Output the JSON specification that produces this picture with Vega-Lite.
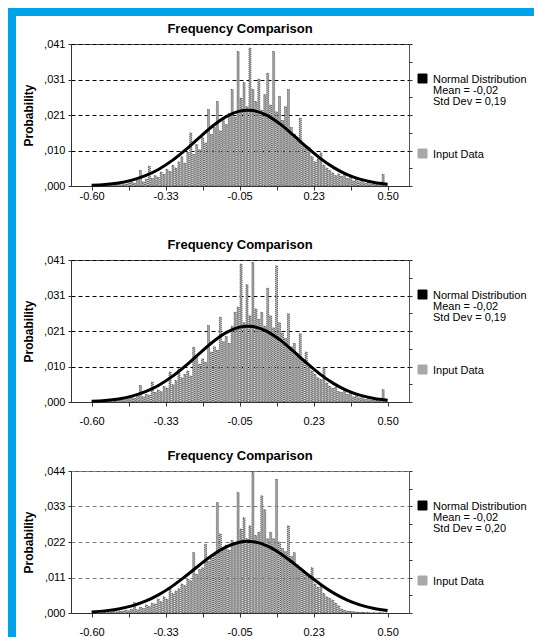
{
"$schema": "https://vega.github.io/schema/vega-lite/v6.json",
"background": "white",
"padding": {"left": 8, "top": 8, "right": 0, "bottom": 0},
"datasets": {
"bars": [
{"p":1,"x":-0.5945,"y":0.0003},{"p":1,"x":-0.5835,"y":0.0002},{"p":1,"x":-0.5725,"y":0.0004},{"p":1,"x":-0.5615,"y":0.0003},{"p":1,"x":-0.5505,"y":0.0005},{"p":1,"x":-0.5395,"y":0.0006},{"p":1,"x":-0.5285,"y":0.0004},{"p":1,"x":-0.5175,"y":0.0008},{"p":1,"x":-0.5065,"y":0.0005},{"p":1,"x":-0.4955,"y":0.0009},
{"p":1,"x":-0.4845,"y":0.0010},{"p":1,"x":-0.4735,"y":0.0006},{"p":1,"x":-0.4625,"y":0.0014},{"p":1,"x":-0.4515,"y":0.0012},{"p":1,"x":-0.4405,"y":0.0008},{"p":1,"x":-0.4295,"y":0.0016},{"p":1,"x":-0.4185,"y":0.0045},{"p":1,"x":-0.4075,"y":0.0012},{"p":1,"x":-0.3965,"y":0.0020},{"p":1,"x":-0.3855,"y":0.0058},
{"p":1,"x":-0.3745,"y":0.0022},{"p":1,"x":-0.3635,"y":0.0030},{"p":1,"x":-0.3525,"y":0.0025},{"p":1,"x":-0.3415,"y":0.0040},{"p":1,"x":-0.3305,"y":0.0034},{"p":1,"x":-0.3195,"y":0.0048},{"p":1,"x":-0.3085,"y":0.0042},{"p":1,"x":-0.2975,"y":0.0060},{"p":1,"x":-0.2865,"y":0.0052},{"p":1,"x":-0.2755,"y":0.0070},
{"p":1,"x":-0.2645,"y":0.0085},{"p":1,"x":-0.2535,"y":0.0066},{"p":1,"x":-0.2425,"y":0.0098},{"p":1,"x":-0.2315,"y":0.0154},{"p":1,"x":-0.2205,"y":0.0092},{"p":1,"x":-0.2095,"y":0.0120},{"p":1,"x":-0.1985,"y":0.0105},{"p":1,"x":-0.1875,"y":0.0140},{"p":1,"x":-0.1765,"y":0.0125},{"p":1,"x":-0.1655,"y":0.0222},
{"p":1,"x":-0.1545,"y":0.0150},{"p":1,"x":-0.1435,"y":0.0170},{"p":1,"x":-0.1325,"y":0.0245},{"p":1,"x":-0.1215,"y":0.0160},{"p":1,"x":-0.1105,"y":0.0195},{"p":1,"x":-0.0995,"y":0.0178},{"p":1,"x":-0.0885,"y":0.0210},{"p":1,"x":-0.0775,"y":0.0280},{"p":1,"x":-0.0665,"y":0.0200},{"p":1,"x":-0.0555,"y":0.0390},
{"p":1,"x":-0.0445,"y":0.0255},{"p":1,"x":-0.0335,"y":0.0300},{"p":1,"x":-0.0225,"y":0.0230},{"p":1,"x":-0.0115,"y":0.0400},{"p":1,"x":-0.0005,"y":0.0280},{"p":1,"x":0.0105,"y":0.0245},{"p":1,"x":0.0215,"y":0.0310},{"p":1,"x":0.0325,"y":0.0220},{"p":1,"x":0.0435,"y":0.0265},{"p":1,"x":0.0545,"y":0.0327},
{"p":1,"x":0.0655,"y":0.0235},{"p":1,"x":0.0765,"y":0.0390},{"p":1,"x":0.0875,"y":0.0215},{"p":1,"x":0.0985,"y":0.0260},{"p":1,"x":0.1095,"y":0.0190},{"p":1,"x":0.1205,"y":0.0230},{"p":1,"x":0.1315,"y":0.0280},{"p":1,"x":0.1425,"y":0.0170},{"p":1,"x":0.1535,"y":0.0150},{"p":1,"x":0.1645,"y":0.0140},
{"p":1,"x":0.1755,"y":0.0197},{"p":1,"x":0.1865,"y":0.0120},{"p":1,"x":0.1975,"y":0.0110},{"p":1,"x":0.2085,"y":0.0112},{"p":1,"x":0.2195,"y":0.0085},{"p":1,"x":0.2305,"y":0.0070},{"p":1,"x":0.2415,"y":0.0078},{"p":1,"x":0.2525,"y":0.0096},{"p":1,"x":0.2635,"y":0.0060},{"p":1,"x":0.2745,"y":0.0052},
{"p":1,"x":0.2855,"y":0.0045},{"p":1,"x":0.2965,"y":0.0038},{"p":1,"x":0.3075,"y":0.0030},{"p":1,"x":0.3185,"y":0.0035},{"p":1,"x":0.3295,"y":0.0028},{"p":1,"x":0.3405,"y":0.0036},{"p":1,"x":0.3515,"y":0.0022},{"p":1,"x":0.3625,"y":0.0030},{"p":1,"x":0.3735,"y":0.0015},{"p":1,"x":0.3845,"y":0.0020},
{"p":1,"x":0.3955,"y":0.0012},{"p":1,"x":0.4065,"y":0.0018},{"p":1,"x":0.4175,"y":0.0008},{"p":1,"x":0.4285,"y":0.0010},{"p":1,"x":0.4395,"y":0.0006},{"p":1,"x":0.4505,"y":0.0009},{"p":1,"x":0.4615,"y":0.0004},{"p":1,"x":0.4725,"y":0.0008},{"p":1,"x":0.4835,"y":0.0034},{"p":1,"x":0.4945,"y":0.0005},
{"p":2,"x":-0.5945,"y":0.0003},{"p":2,"x":-0.5835,"y":0.0004},{"p":2,"x":-0.5725,"y":0.0002},{"p":2,"x":-0.5615,"y":0.0005},{"p":2,"x":-0.5505,"y":0.0004},{"p":2,"x":-0.5395,"y":0.0007},{"p":2,"x":-0.5285,"y":0.0005},{"p":2,"x":-0.5175,"y":0.0009},{"p":2,"x":-0.5065,"y":0.0006},{"p":2,"x":-0.4955,"y":0.0010},
{"p":2,"x":-0.4845,"y":0.0008},{"p":2,"x":-0.4735,"y":0.0013},{"p":2,"x":-0.4625,"y":0.0010},{"p":2,"x":-0.4515,"y":0.0015},{"p":2,"x":-0.4405,"y":0.0011},{"p":2,"x":-0.4295,"y":0.0018},{"p":2,"x":-0.4185,"y":0.0048},{"p":2,"x":-0.4075,"y":0.0015},{"p":2,"x":-0.3965,"y":0.0022},{"p":2,"x":-0.3855,"y":0.0020},
{"p":2,"x":-0.3745,"y":0.0058},{"p":2,"x":-0.3635,"y":0.0028},{"p":2,"x":-0.3525,"y":0.0035},{"p":2,"x":-0.3415,"y":0.0030},{"p":2,"x":-0.3305,"y":0.0045},{"p":2,"x":-0.3195,"y":0.0040},{"p":2,"x":-0.3085,"y":0.0087},{"p":2,"x":-0.2975,"y":0.0050},{"p":2,"x":-0.2865,"y":0.0062},{"p":2,"x":-0.2755,"y":0.0096},
{"p":2,"x":-0.2645,"y":0.0070},{"p":2,"x":-0.2535,"y":0.0080},{"p":2,"x":-0.2425,"y":0.0090},{"p":2,"x":-0.2315,"y":0.0075},{"p":2,"x":-0.2205,"y":0.0159},{"p":2,"x":-0.2095,"y":0.0135},{"p":2,"x":-0.1985,"y":0.0110},{"p":2,"x":-0.1875,"y":0.0125},{"p":2,"x":-0.1765,"y":0.0115},{"p":2,"x":-0.1655,"y":0.0222},
{"p":2,"x":-0.1545,"y":0.0145},{"p":2,"x":-0.1435,"y":0.0160},{"p":2,"x":-0.1325,"y":0.0150},{"p":2,"x":-0.1215,"y":0.0246},{"p":2,"x":-0.1105,"y":0.0175},{"p":2,"x":-0.0995,"y":0.0190},{"p":2,"x":-0.0885,"y":0.0170},{"p":2,"x":-0.0775,"y":0.0220},{"p":2,"x":-0.0665,"y":0.0260},{"p":2,"x":-0.0555,"y":0.0275},
{"p":2,"x":-0.0445,"y":0.0400},{"p":2,"x":-0.0335,"y":0.0230},{"p":2,"x":-0.0225,"y":0.0340},{"p":2,"x":-0.0115,"y":0.0250},{"p":2,"x":-0.0005,"y":0.0405},{"p":2,"x":0.0105,"y":0.0270},{"p":2,"x":0.0215,"y":0.0240},{"p":2,"x":0.0325,"y":0.0260},{"p":2,"x":0.0435,"y":0.0220},{"p":2,"x":0.0545,"y":0.0330},
{"p":2,"x":0.0655,"y":0.0250},{"p":2,"x":0.0765,"y":0.0215},{"p":2,"x":0.0875,"y":0.0395},{"p":2,"x":0.0985,"y":0.0230},{"p":2,"x":0.1095,"y":0.0200},{"p":2,"x":0.1205,"y":0.0185},{"p":2,"x":0.1315,"y":0.0256},{"p":2,"x":0.1425,"y":0.0160},{"p":2,"x":0.1535,"y":0.0170},{"p":2,"x":0.1645,"y":0.0140},
{"p":2,"x":0.1755,"y":0.0198},{"p":2,"x":0.1865,"y":0.0125},{"p":2,"x":0.1975,"y":0.0145},{"p":2,"x":0.2085,"y":0.0100},{"p":2,"x":0.2195,"y":0.0090},{"p":2,"x":0.2305,"y":0.0080},{"p":2,"x":0.2415,"y":0.0070},{"p":2,"x":0.2525,"y":0.0065},{"p":2,"x":0.2635,"y":0.0101},{"p":2,"x":0.2745,"y":0.0055},
{"p":2,"x":0.2855,"y":0.0045},{"p":2,"x":0.2965,"y":0.0040},{"p":2,"x":0.3075,"y":0.0043},{"p":2,"x":0.3185,"y":0.0030},{"p":2,"x":0.3295,"y":0.0028},{"p":2,"x":0.3405,"y":0.0034},{"p":2,"x":0.3515,"y":0.0022},{"p":2,"x":0.3625,"y":0.0025},{"p":2,"x":0.3735,"y":0.0015},{"p":2,"x":0.3845,"y":0.0018},
{"p":2,"x":0.3955,"y":0.0012},{"p":2,"x":0.4065,"y":0.0019},{"p":2,"x":0.4175,"y":0.0008},{"p":2,"x":0.4285,"y":0.0010},{"p":2,"x":0.4395,"y":0.0006},{"p":2,"x":0.4505,"y":0.0008},{"p":2,"x":0.4615,"y":0.0004},{"p":2,"x":0.4725,"y":0.0006},{"p":2,"x":0.4835,"y":0.0036},{"p":2,"x":0.4945,"y":0.0008},
{"p":3,"x":-0.5945,"y":0.0000},{"p":3,"x":-0.5835,"y":0.0002},{"p":3,"x":-0.5725,"y":0.0000},{"p":3,"x":-0.5615,"y":0.0003},{"p":3,"x":-0.5505,"y":0.0002},{"p":3,"x":-0.5395,"y":0.0004},{"p":3,"x":-0.5285,"y":0.0003},{"p":3,"x":-0.5175,"y":0.0005},{"p":3,"x":-0.5065,"y":0.0004},{"p":3,"x":-0.4955,"y":0.0006},
{"p":3,"x":-0.4845,"y":0.0006},{"p":3,"x":-0.4735,"y":0.0009},{"p":3,"x":-0.4625,"y":0.0007},{"p":3,"x":-0.4515,"y":0.0011},{"p":3,"x":-0.4405,"y":0.0032},{"p":3,"x":-0.4295,"y":0.0010},{"p":3,"x":-0.4185,"y":0.0018},{"p":3,"x":-0.4075,"y":0.0014},{"p":3,"x":-0.3965,"y":0.0025},{"p":3,"x":-0.3855,"y":0.0020},
{"p":3,"x":-0.3745,"y":0.0030},{"p":3,"x":-0.3635,"y":0.0028},{"p":3,"x":-0.3525,"y":0.0043},{"p":3,"x":-0.3415,"y":0.0035},{"p":3,"x":-0.3305,"y":0.0050},{"p":3,"x":-0.3195,"y":0.0042},{"p":3,"x":-0.3085,"y":0.0074},{"p":3,"x":-0.2975,"y":0.0060},{"p":3,"x":-0.2865,"y":0.0068},{"p":3,"x":-0.2755,"y":0.0075},
{"p":3,"x":-0.2645,"y":0.0090},{"p":3,"x":-0.2535,"y":0.0085},{"p":3,"x":-0.2425,"y":0.0105},{"p":3,"x":-0.2315,"y":0.0100},{"p":3,"x":-0.2205,"y":0.0187},{"p":3,"x":-0.2095,"y":0.0120},{"p":3,"x":-0.1985,"y":0.0135},{"p":3,"x":-0.1875,"y":0.0140},{"p":3,"x":-0.1765,"y":0.0213},{"p":3,"x":-0.1655,"y":0.0160},
{"p":3,"x":-0.1545,"y":0.0170},{"p":3,"x":-0.1435,"y":0.0180},{"p":3,"x":-0.1325,"y":0.0342},{"p":3,"x":-0.1215,"y":0.0245},{"p":3,"x":-0.1105,"y":0.0200},{"p":3,"x":-0.0995,"y":0.0210},{"p":3,"x":-0.0885,"y":0.0195},{"p":3,"x":-0.0775,"y":0.0225},{"p":3,"x":-0.0665,"y":0.0215},{"p":3,"x":-0.0555,"y":0.0373},
{"p":3,"x":-0.0445,"y":0.0260},{"p":3,"x":-0.0335,"y":0.0295},{"p":3,"x":-0.0225,"y":0.0230},{"p":3,"x":-0.0115,"y":0.0270},{"p":3,"x":-0.0005,"y":0.0435},{"p":3,"x":0.0105,"y":0.0240},{"p":3,"x":0.0215,"y":0.0250},{"p":3,"x":0.0325,"y":0.0363},{"p":3,"x":0.0435,"y":0.0320},{"p":3,"x":0.0545,"y":0.0230},
{"p":3,"x":0.0655,"y":0.0250},{"p":3,"x":0.0765,"y":0.0230},{"p":3,"x":0.0875,"y":0.0414},{"p":3,"x":0.0985,"y":0.0220},{"p":3,"x":0.1095,"y":0.0200},{"p":3,"x":0.1205,"y":0.0190},{"p":3,"x":0.1315,"y":0.0270},{"p":3,"x":0.1425,"y":0.0175},{"p":3,"x":0.1535,"y":0.0187},{"p":3,"x":0.1645,"y":0.0150},
{"p":3,"x":0.1755,"y":0.0140},{"p":3,"x":0.1865,"y":0.0130},{"p":3,"x":0.1975,"y":0.0120},{"p":3,"x":0.2085,"y":0.0110},{"p":3,"x":0.2195,"y":0.0140},{"p":3,"x":0.2305,"y":0.0090},{"p":3,"x":0.2415,"y":0.0080},{"p":3,"x":0.2525,"y":0.0084},{"p":3,"x":0.2635,"y":0.0060},{"p":3,"x":0.2745,"y":0.0050},
{"p":3,"x":0.2855,"y":0.0045},{"p":3,"x":0.2965,"y":0.0040},{"p":3,"x":0.3075,"y":0.0030},{"p":3,"x":0.3185,"y":0.0022},{"p":3,"x":0.3295,"y":0.0012},{"p":3,"x":0.3405,"y":0.0008},{"p":3,"x":0.3515,"y":0.0006},{"p":3,"x":0.3625,"y":0.0005},{"p":3,"x":0.3735,"y":0.0004},{"p":3,"x":0.3845,"y":0.0003},
{"p":3,"x":0.3955,"y":0.0002},{"p":3,"x":0.4065,"y":0.0003},{"p":3,"x":0.4175,"y":0.0001},{"p":3,"x":0.4285,"y":0.0002},{"p":3,"x":0.4395,"y":0.0000},{"p":3,"x":0.4505,"y":0.0001},{"p":3,"x":0.4615,"y":0.0000},{"p":3,"x":0.4725,"y":0.0001},{"p":3,"x":0.4835,"y":0.0000},{"p":3,"x":0.4945,"y":0.0000}
],
"curve": [
{"c":"a","x":-0.60,"y":0.00021},{"c":"a","x":-0.55,"y":0.00045},{"c":"a","x":-0.50,"y":0.00090},{"c":"a","x":-0.45,"y":0.00170},{"c":"a","x":-0.40,"y":0.00298},{"c":"a","x":-0.35,"y":0.00487},{"c":"a","x":-0.30,"y":0.00743},{"c":"a","x":-0.25,"y":0.01057},{"c":"a","x":-0.20,"y":0.01404},{"c":"a","x":-0.15,"y":0.01741},{"c":"a","x":-0.10,"y":0.02013},{"c":"a","x":-0.05,"y":0.02173},{"c":"a","x":-0.02,"y":0.02200},{"c":"a","x":0.00,"y":0.02188},{"c":"a","x":0.05,"y":0.02056},{"c":"a","x":0.10,"y":0.01802},{"c":"a","x":0.15,"y":0.01474},{"c":"a","x":0.20,"y":0.01125},{"c":"a","x":0.25,"y":0.00801},{"c":"a","x":0.30,"y":0.00533},{"c":"a","x":0.35,"y":0.00330},{"c":"a","x":0.40,"y":0.00191},{"c":"a","x":0.45,"y":0.00103},{"c":"a","x":0.50,"y":0.00052},
{"c":"b","x":-0.60,"y":0.00033},{"c":"b","x":-0.55,"y":0.00066},{"c":"b","x":-0.50,"y":0.00125},{"c":"b","x":-0.45,"y":0.00220},{"c":"b","x":-0.40,"y":0.00365},{"c":"b","x":-0.35,"y":0.00569},{"c":"b","x":-0.30,"y":0.00833},{"c":"b","x":-0.25,"y":0.01146},{"c":"b","x":-0.20,"y":0.01481},{"c":"b","x":-0.15,"y":0.01797},{"c":"b","x":-0.10,"y":0.02049},{"c":"b","x":-0.05,"y":0.02195},{"c":"b","x":-0.02,"y":0.02220},{"c":"b","x":0.00,"y":0.02209},{"c":"b","x":0.05,"y":0.02088},{"c":"b","x":0.10,"y":0.01854},{"c":"b","x":0.15,"y":0.01547},{"c":"b","x":0.20,"y":0.01212},{"c":"b","x":0.25,"y":0.00893},{"c":"b","x":0.30,"y":0.00617},{"c":"b","x":0.35,"y":0.00401},{"c":"b","x":0.40,"y":0.00245},{"c":"b","x":0.45,"y":0.00140},{"c":"b","x":0.50,"y":0.00076}
]
},
"spacing": 0,
"vconcat": [
 {"width": 526, "height": 8, "view": {"fill": "#00a2e8", "stroke": null}, "data": {"values": []}, "mark": "point", "encoding": {}},
 {"spacing": 6, "hconcat": [
  {"width": 8, "height": 621, "view": {"fill": "#00a2e8", "stroke": null}, "data": {"values": []}, "mark": "point", "encoding": {}},
  {"spacing": 5, "resolve": {"scale": {"color": "independent"}, "legend": {"color": "independent"}},
   "vconcat": [
    {"width": 1, "height": 1, "view": {"stroke": null}, "data": {"values": []}, "mark": "point", "encoding": {}},
    {"spacing": 36, "resolve": {"scale": {"color": "independent"}, "legend": {"color": "independent"}},
     "vconcat": [
      {"width": 338, "height": 142, "title": {"text": "Frequency Comparison", "frame": "group", "offset": 2},
       "resolve": {"axis": {"y": "independent"}},
       "layer": [
        {"data": {"name": "bars"}, "transform": [{"filter": "datum.p == 1"}],
         "mark": {"type": "bar", "width": 2, "clip": true, "stroke": "#000000", "strokeWidth": 0.6, "strokeDash": [1, 1]},
         "encoding": {
          "x": {"field": "x", "type": "quantitative", "scale": {"domain": [-0.658, 0.561], "nice": false, "zero": false},
                "axis": {"values": [-0.6, -0.4625, -0.325, -0.1875, -0.05, 0.0875, 0.225, 0.3625, 0.5], "tickCount": 20, "labelExpr": "abs((datum.value + 0.6) / 0.275 - round((datum.value + 0.6) / 0.275)) > 0.1 ? '' : datum.value < 0 ? '-' + format(-datum.value, '.2f') : format(datum.value, '.2f')", "title": null, "grid": false, "tickSize": 4, "labelPadding": 0, "labelFlush": false, "labelOverlap": false}},
          "y": {"field": "y", "type": "quantitative", "scale": {"domain": [0, 0.0412], "nice": false},
                "axis": {"values": [0, 0.0103, 0.0206, 0.0309, 0.0412], "tickCount": 20, "labelOverlap": false, "labelExpr": "',' + slice(format(datum.value, '.3f'), 2)", "title": "Probability", "grid": true, "gridColor": "#000000", "gridDash": [4, 3], "tickSize": 3, "labelPadding": 3, "titlePadding": 8}},
          "color": {"datum": "Input Data", "type": "nominal", "scale": {"domain": ["Normal Distribution", "Input Data"], "range": ["#000000", "#a8a8a8"]},
                    "legend": {"title": " ", "titleFontSize": 11, "titlePadding": 18, "offset": 4, "padding": 0, "symbolType": "square", "symbolSize": 81, "labelBaseline": "top", "labelOffset": 5, "rowPadding": 40,
                               "labelExpr": "datum.label == 'Normal Distribution' ? ['Normal Distribution', 'Mean = -0,02', 'Std Dev = 0,19'] : datum.label",
                               "encode": {"labels": {"update": {"dy": {"value": -5}, "lineHeight": {"value": 11}}}}}}
         }},
        {"data": {"name": "curve"}, "transform": [{"filter": "datum.c == 'a'"}],
         "mark": {"type": "line", "strokeWidth": 3, "interpolate": "monotone"},
         "encoding": {"x": {"field": "x", "type": "quantitative"},
                      "y": {"field": "y", "type": "quantitative", "axis": {"orient": "right", "values": [0, 0.00515, 0.0103, 0.01545, 0.0206, 0.02575, 0.0309, 0.03605, 0.0412], "tickCount": 20, "labels": false, "domain": false, "grid": false, "tickSize": 3, "title": null}},
                      "color": {"datum": "Normal Distribution", "type": "nominal",
                                "legend": {"title": " ", "titleFontSize": 11, "titlePadding": 18, "offset": 4, "padding": 0, "symbolType": "square", "symbolSize": 81, "labelBaseline": "top", "labelOffset": 5, "rowPadding": 40,
                                           "labelExpr": "datum.label == 'Normal Distribution' ? ['Normal Distribution', 'Mean = -0,02', 'Std Dev = 0,19'] : datum.label",
                                           "encode": {"labels": {"update": {"dy": {"value": -5}, "lineHeight": {"value": 11}}}}}}}}
       ]},
      {"spacing": 22, "resolve": {"scale": {"color": "independent"}, "legend": {"color": "independent"}},
       "vconcat": [
        {"width": 338, "height": 142, "title": {"text": "Frequency Comparison", "frame": "group", "offset": 2},
         "resolve": {"axis": {"y": "independent"}},
         "layer": [
          {"data": {"name": "bars"}, "transform": [{"filter": "datum.p == 2"}],
           "mark": {"type": "bar", "width": 2, "clip": true, "stroke": "#000000", "strokeWidth": 0.6, "strokeDash": [1, 1]},
           "encoding": {
            "x": {"field": "x", "type": "quantitative", "scale": {"domain": [-0.658, 0.561], "nice": false, "zero": false},
                  "axis": {"values": [-0.6, -0.4625, -0.325, -0.1875, -0.05, 0.0875, 0.225, 0.3625, 0.5], "tickCount": 20, "labelExpr": "abs((datum.value + 0.6) / 0.275 - round((datum.value + 0.6) / 0.275)) > 0.1 ? '' : datum.value < 0 ? '-' + format(-datum.value, '.2f') : format(datum.value, '.2f')", "title": null, "grid": false, "tickSize": 4, "labelPadding": 9, "labelFlush": false, "labelOverlap": false}},
            "y": {"field": "y", "type": "quantitative", "scale": {"domain": [0, 0.0412], "nice": false},
                  "axis": {"values": [0, 0.0103, 0.0206, 0.0309, 0.0412], "tickCount": 20, "labelOverlap": false, "labelExpr": "',' + slice(format(datum.value, '.3f'), 2)", "title": "Probability", "grid": true, "gridColor": "#000000", "gridDash": [4, 3], "tickSize": 3, "labelPadding": 3, "titlePadding": 8}},
            "color": {"datum": "Input Data", "type": "nominal", "scale": {"domain": ["Normal Distribution", "Input Data"], "range": ["#000000", "#a8a8a8"]},
                      "legend": {"title": " ", "titleFontSize": 11, "titlePadding": 18, "offset": 4, "padding": 0, "symbolType": "square", "symbolSize": 81, "labelBaseline": "top", "labelOffset": 5, "rowPadding": 40,
                                 "labelExpr": "datum.label == 'Normal Distribution' ? ['Normal Distribution', 'Mean = -0,02', 'Std Dev = 0,19'] : datum.label",
                                 "encode": {"labels": {"update": {"dy": {"value": -5}, "lineHeight": {"value": 11}}}}}}
           }},
          {"data": {"name": "curve"}, "transform": [{"filter": "datum.c == 'a'"}],
           "mark": {"type": "line", "strokeWidth": 3, "interpolate": "monotone"},
           "encoding": {"x": {"field": "x", "type": "quantitative"},
                        "y": {"field": "y", "type": "quantitative", "axis": {"orient": "right", "values": [0, 0.00515, 0.0103, 0.01545, 0.0206, 0.02575, 0.0309, 0.03605, 0.0412], "tickCount": 20, "labels": false, "domain": false, "grid": false, "tickSize": 3, "title": null}},
                        "color": {"datum": "Normal Distribution", "type": "nominal",
                                  "legend": {"title": " ", "titleFontSize": 11, "titlePadding": 18, "offset": 4, "padding": 0, "symbolType": "square", "symbolSize": 81, "labelBaseline": "top", "labelOffset": 5, "rowPadding": 40,
                                             "labelExpr": "datum.label == 'Normal Distribution' ? ['Normal Distribution', 'Mean = -0,02', 'Std Dev = 0,19'] : datum.label",
                                             "encode": {"labels": {"update": {"dy": {"value": -5}, "lineHeight": {"value": 11}}}}}}}}
         ]},
        {"width": 338, "height": 142, "title": {"text": "Frequency Comparison", "frame": "group", "offset": 2},
         "resolve": {"axis": {"y": "independent"}},
         "layer": [
          {"data": {"name": "bars"}, "transform": [{"filter": "datum.p == 3"}],
           "mark": {"type": "bar", "width": 2, "clip": true, "stroke": "#000000", "strokeWidth": 0.6, "strokeDash": [1, 1]},
           "encoding": {
            "x": {"field": "x", "type": "quantitative", "scale": {"domain": [-0.658, 0.561], "nice": false, "zero": false},
                  "axis": {"values": [-0.6, -0.4625, -0.325, -0.1875, -0.05, 0.0875, 0.225, 0.3625, 0.5], "tickCount": 20, "labelExpr": "abs((datum.value + 0.6) / 0.275 - round((datum.value + 0.6) / 0.275)) > 0.1 ? '' : datum.value < 0 ? '-' + format(-datum.value, '.2f') : format(datum.value, '.2f')", "title": null, "grid": false, "tickSize": 4, "labelPadding": 9, "labelFlush": false, "labelOverlap": false}},
            "y": {"field": "y", "type": "quantitative", "scale": {"domain": [0, 0.044], "nice": false},
                  "axis": {"values": [0, 0.011, 0.022, 0.033, 0.044], "tickCount": 20, "labelOverlap": false, "labelExpr": "',' + slice(format(datum.value, '.3f'), 2)", "title": "Probability", "grid": true, "gridColor": "#808080", "gridDash": [4, 3], "tickSize": 3, "labelPadding": 3, "titlePadding": 8}},
            "color": {"datum": "Input Data", "type": "nominal", "scale": {"domain": ["Normal Distribution", "Input Data"], "range": ["#000000", "#a8a8a8"]},
                      "legend": {"title": " ", "titleFontSize": 11, "titlePadding": 18, "offset": 4, "padding": 0, "symbolType": "square", "symbolSize": 81, "labelBaseline": "top", "labelOffset": 5, "rowPadding": 40,
                                 "labelExpr": "datum.label == 'Normal Distribution' ? ['Normal Distribution', 'Mean = -0,02', 'Std Dev = 0,20'] : datum.label",
                                 "encode": {"labels": {"update": {"dy": {"value": -5}, "lineHeight": {"value": 11}}}}}}
           }},
          {"data": {"name": "curve"}, "transform": [{"filter": "datum.c == 'b'"}],
           "mark": {"type": "line", "strokeWidth": 3, "interpolate": "monotone"},
           "encoding": {"x": {"field": "x", "type": "quantitative"},
                        "y": {"field": "y", "type": "quantitative", "axis": {"orient": "right", "values": [0, 0.0055, 0.011, 0.0165, 0.022, 0.0275, 0.033, 0.0385, 0.044], "tickCount": 20, "labels": false, "domain": false, "grid": false, "tickSize": 3, "title": null}},
                        "color": {"datum": "Normal Distribution", "type": "nominal",
                                  "legend": {"title": " ", "titleFontSize": 11, "titlePadding": 18, "offset": 4, "padding": 0, "symbolType": "square", "symbolSize": 81, "labelBaseline": "top", "labelOffset": 5, "rowPadding": 40,
                                             "labelExpr": "datum.label == 'Normal Distribution' ? ['Normal Distribution', 'Mean = -0,02', 'Std Dev = 0,20'] : datum.label",
                                             "encode": {"labels": {"update": {"dy": {"value": -5}, "lineHeight": {"value": 11}}}}}}}}
         ]}
       ]}
     ]}
   ]}
 ]}
],
"config": {
 "font": "Liberation Sans",
 "view": {"stroke": "#555555", "strokeWidth": 1},
 "title": {"font": "Liberation Sans", "fontSize": 13, "fontWeight": "bold", "color": "#000000"},
 "axis": {"labelFont": "Liberation Sans", "labelFontSize": 11, "labelColor": "#000000", "titleFont": "Liberation Sans", "titleFontSize": 12, "titleFontWeight": "bold", "titleColor": "#000000", "domainColor": "#333333", "tickColor": "#333333", "gridOpacity": 1},
 "legend": {"labelFont": "Liberation Sans", "labelFontSize": 11, "labelColor": "#000000", "symbolStrokeWidth": 1, "labelLimit": 200}
}
}
